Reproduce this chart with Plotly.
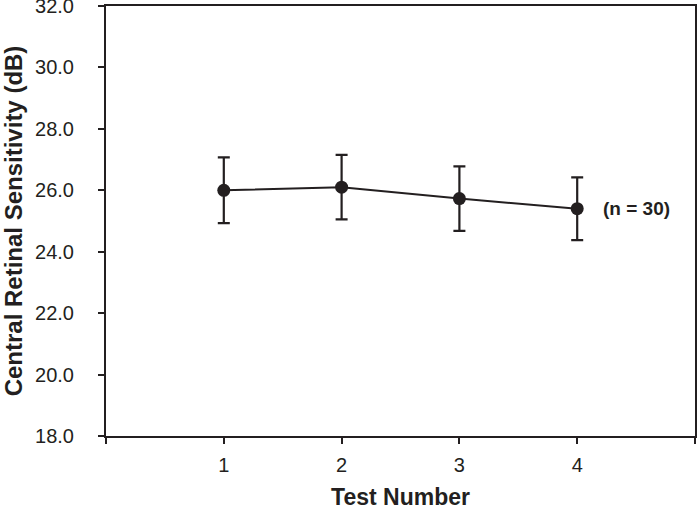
import plotly.graph_objects as go

# data
test_number = [1, 2, 3, 4]
sensitivity = [26.0, 26.1, 25.73, 25.4]
sensitivity_err = [1.07, 1.05, 1.05, 1.02]
x_tickvals = [0, 1, 2, 3, 4, 5]
x_ticktext = ["", "1", "2", "3", "4", ""]
y_tickvals = [18, 20, 22, 24, 26, 28, 30, 32]
n_label = "(n = 30)"

ink = "#231f20"

fig = go.Figure()
fig.add_trace(go.Scatter(
    x=test_number, y=sensitivity,
    mode="lines+markers",
    line=dict(color=ink, width=2),
    marker=dict(color=ink, size=13),
    error_y=dict(type="data", array=sensitivity_err, color=ink, thickness=2.2, width=6),
    showlegend=False,
))

# sample size label next to the last point
fig.add_annotation(
    x=4.5, y=sensitivity[-1], text="<b>%s</b>" % n_label,
    showarrow=False, xanchor="center", yanchor="middle",
    font=dict(family="Liberation Sans, Arial", size=19, color=ink),
)

fig.update_layout(
    width=697, height=514,
    margin=dict(l=106, r=2, t=6, b=78),
    paper_bgcolor="white", plot_bgcolor="white",
    font=dict(family="Liberation Sans, Arial", size=20, color=ink),
)
fig.update_xaxes(
    range=[0, 5], tickvals=x_tickvals, ticktext=x_ticktext,
    showgrid=False, zeroline=False, automargin=False,
    showline=True, linecolor=ink, linewidth=2, mirror=True,
    ticks="outside", ticklen=6, tickwidth=1.5, tickcolor=ink,
    ticklabelstandoff=4, ticklabeloverflow="allow",
    title=dict(text="<b>Test Number</b>", font=dict(size=23), standoff=14),
)
fig.update_yaxes(
    range=[18, 32], tickvals=y_tickvals, tickformat=".1f",
    showgrid=False, zeroline=False, automargin=False,
    showline=True, linecolor=ink, linewidth=2, mirror=True,
    ticks="outside", ticklen=6, tickwidth=1.5, tickcolor=ink,
    ticklabelstandoff=20, ticklabeloverflow="allow",
    title=dict(text="<b>Central Retinal Sensitivity (dB)</b>", font=dict(size=24), standoff=12),
)

# page body margin would shift the figure by 8px
fig.write_html("out.html", config={"displayModeBar": False},
               post_script="document.body.style.margin='0';")
